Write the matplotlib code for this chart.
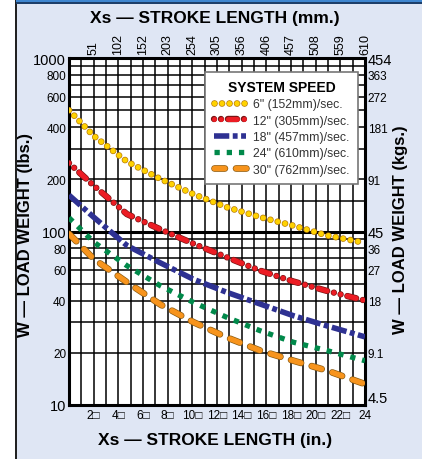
import matplotlib.pyplot as plt
import matplotlib.patheffects as pe
from matplotlib.patches import Rectangle
from matplotlib.ticker import NullFormatter

plt.rcParams['font.family'] = ['Liberation Sans', 'DejaVu Sans']
plt.rcParams['lines.scale_dashes'] = False

# stroke length (in.) and load weight (lbs.)
stroke_in = [0, 2, 4.7, 7.4, 10.1, 12.8, 15.5, 18.2, 20.9, 24]
w_6 = [500, 356, 253, 201, 164, 138, 121, 108, 95, 86]
w_12 = [248, 184, 126, 103, 85, 71, 59.5, 51.5, 45.5, 40]
w_18 = [162, 121, 83, 66, 53, 44.6, 38.2, 32.7, 28.6, 24.7]
w_24 = [120, 87, 63.5, 48.7, 39, 32, 26.8, 23, 20.6, 18]
w_30 = [97, 69.5, 51, 38, 30, 24.5, 20.6, 18, 15.8, 13.2]

speed_labels = ['6" (152mm)/sec.', '12" (305mm)/sec.', '18" (457mm)/sec.',
                '24" (610mm)/sec.', '30" (762mm)/sec.']

# tick labels
in_ticks = list(range(2, 25, 2))
in_labels = [f'{t}\u25a1' for t in in_ticks[:-1]] + ['24']
mm_labels = ['51', '102', '152', '203', '254', '305', '356', '406', '457',
             '508', '559', '610']
lb_ticks = [1000, 800, 600, 400, 200, 100, 80, 60, 40, 20, 10]
kg_labels = ['454', '363', '272', '181', '91', '45', '36', '27', '18', '9.1', '4.5']
lb_grid = [10, 20, 30, 40, 50, 60, 70, 80, 90, 100, 150, 200, 300, 400, 500,
           600, 700, 800, 900, 1000]

fig = plt.figure(figsize=(4.22, 4.60), dpi=100)
fig.patch.set_facecolor('white')

# panel background and frame
fig.add_artist(Rectangle((0.038, 0), 0.962, 1, transform=fig.transFigure,
                         facecolor='#dfe6f4', edgecolor='none', zorder=0))
fig.add_artist(Rectangle((0.036, 0), 0.005, 1, transform=fig.transFigure,
                         facecolor='#222222', edgecolor='none', zorder=1))
fig.add_artist(Rectangle((0.038, 0.993), 0.962, 0.007, transform=fig.transFigure,
                         facecolor='#3f86cf', edgecolor='none', zorder=1))
fig.add_artist(Rectangle((0.038, 0.990), 0.962, 0.003, transform=fig.transFigure,
                         facecolor='#1d3f6a', edgecolor='none', zorder=1))

ax = fig.add_axes([0.1635, 0.1174, 0.7014, 0.7543])
ax.set_facecolor('white')
ax.set_yscale('log')
ax.set_xlim(0, 24)
ax.set_ylim(10, 1000)

# grid
ax.set_xticks(range(0, 25), minor=True)
ax.set_yticks(lb_grid, minor=True)
ax.yaxis.set_minor_formatter(NullFormatter())
ax.grid(True, which='both', color='black', lw=1.1)
ax.axhline(100, color='black', lw=2.2, zorder=1.5)
for s in ax.spines.values():
    s.set_linewidth(2.2)

ax.set_xticks(in_ticks, in_labels)
ax.set_yticks(lb_ticks, [str(v) for v in lb_ticks])
ax.tick_params(which='both', length=0)
ax.tick_params(axis='x', pad=3, labelsize=8.5)
ax.tick_params(axis='y', pad=2)
for lab in ax.get_yticklabels():
    lab.set_fontsize(10.5 if lab.get_text() in ('1000', '100', '10') else 8.5)

# curves
s6 = dict(color='#ffd200', lw=3.8, ls=(0, (0.01, 5.4)), dash_capstyle='round',
          path_effects=[pe.Stroke(linewidth=4.8, foreground='#b5780a'), pe.Normal()])
s12 = dict(color='#ec1c24', lw=3.6, ls=(0, (0.01, 5.0, 0.01, 5.0, 6.5, 5.0)),
           dash_capstyle='round',
           path_effects=[pe.Stroke(linewidth=4.6, foreground='#7a1414'), pe.Normal()])
s18 = dict(color='#2e3192', lw=4.0, ls=(0, (11, 2.5, 3.5, 2.5)), dash_capstyle='butt')
s24 = dict(color='#00894a', lw=3.8, ls=(0, (3.8, 5.0)), dash_capstyle='butt')
s30 = dict(color='#f7941d', lw=3.8, ls=(0, (7.5, 8.0)), dash_capstyle='round',
           path_effects=[pe.Stroke(linewidth=4.8, foreground='#8a5a10'), pe.Normal()])

for w, st, lab in zip([w_6, w_12, w_18, w_24, w_30], [s6, s12, s18, s24, s30],
                      speed_labels):
    ax.plot(stroke_in, w, label=lab, zorder=3, **st)

leg = ax.legend(title='SYSTEM SPEED', loc='upper right',
                bbox_to_anchor=(0.985, 0.968), frameon=True, fancybox=False,
                edgecolor='#777777', framealpha=1, handlelength=2.6,
                fontsize=8.8, labelspacing=0.35, borderpad=0.7,
                handletextpad=0.6, borderaxespad=0.2,
                title_fontproperties={'weight': 'bold', 'size': 10})
leg.get_frame().set_linewidth(1.2)
leg.set_zorder(5)
for t in leg.get_texts():
    t.set_color('#333333')

# right axis (kg) - same heights as the lbs. grid labels
sec_y = ax.secondary_yaxis('right', functions=(lambda v: v * 0.4536,
                                               lambda v: v / 0.4536))
sec_y.set_yticks([v * 0.4536 for v in lb_ticks], kg_labels)
sec_y.yaxis.set_minor_formatter(NullFormatter())
sec_y.tick_params(which='both', length=0, pad=2)
for lab in sec_y.get_yticklabels():
    lab.set_fontsize(10.5 if lab.get_text() in ('454', '45', '4.5') else 8.5)
    if lab.get_text() == '4.5':
        lab.set_verticalalignment('bottom')

# top axis (mm)
sec_x = ax.secondary_xaxis('top', functions=(lambda v: v * 25.4,
                                             lambda v: v / 25.4))
sec_x.set_xticks([t * 25.4 for t in in_ticks], mm_labels)
sec_x.tick_params(length=0, pad=3, labelsize=9, labelrotation=90)

# titles
fig.text(0.51, 0.959, 'Xs \u2014 STROKE LENGTH (mm.)', ha='center', va='center',
         fontsize=12.5, fontweight='bold')
fig.text(0.51, 0.043, 'Xs \u2014 STROKE LENGTH (in.)', ha='center', va='center',
         fontsize=12.5, fontweight='bold')
fig.text(0.06, 0.49, 'W \u2014 LOAD WEIGHT (lbs.)', ha='center', va='center',
         rotation=90, fontsize=12, fontweight='bold')
fig.text(0.948, 0.50, 'W \u2014 LOAD WEIGHT (kgs.)', ha='center', va='center',
         rotation=90, fontsize=12, fontweight='bold')

fig.savefig('out.png', dpi=100)
